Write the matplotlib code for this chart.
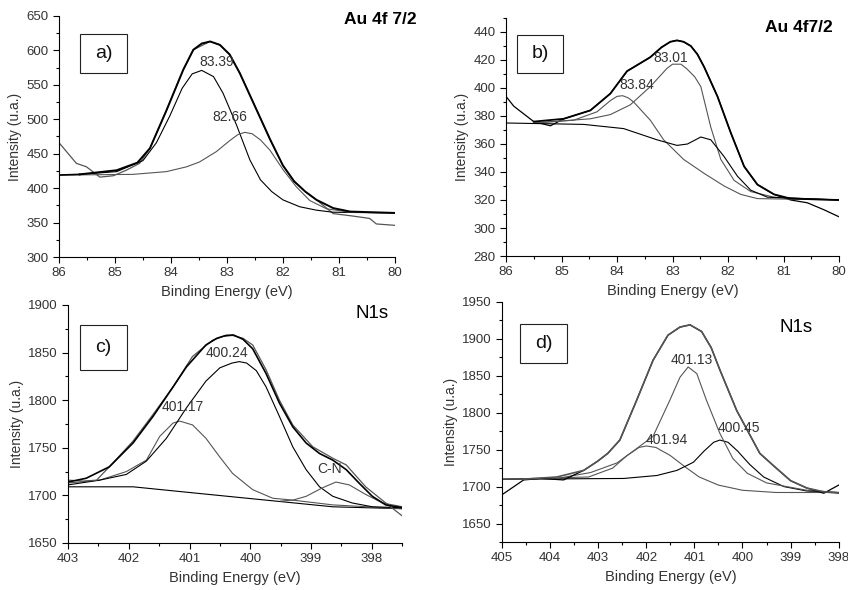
import matplotlib
matplotlib.use("Agg")
import matplotlib.pyplot as plt
from matplotlib.patches import Rectangle
from matplotlib.ticker import MultipleLocator

plt.rcParams["font.family"] = ["Liberation Sans", "DejaVu Sans"]
plt.rcParams["font.size"] = 9

DARK = "#000000"
GRAY = "#555555"

# ── a) Au 4f 7/2 ──
a_raw_x = [86.0, 85.69, 85.51, 85.27, 85.03, 84.80, 84.56, 84.375, 84.08, 83.78, 83.60, 83.30, 83.125,
           82.95, 82.77, 82.59, 82.41, 82.23, 82.0, 81.8, 81.6, 81.4, 81.10, 80.80, 80.62, 80.45, 80.33, 80.0]
a_raw_y = [466, 436, 431, 416, 418, 426, 436, 458, 513, 572, 601, 613, 608,
           594, 567, 535, 503, 471, 433, 410, 395, 383, 363, 360, 358, 356, 348, 346]
a_env_x = [85.63, 84.97, 84.60, 84.375, 84.08, 83.78, 83.60, 83.45, 83.30, 83.125, 82.95, 82.77, 82.59,
           82.41, 82.23, 82.0, 81.8, 81.6, 81.4, 81.1, 80.8, 80.0]
a_env_y = [420, 426, 437, 458, 513, 572, 601, 610, 613, 608, 594, 567, 535,
           503, 471, 433, 410, 395, 383, 371, 366, 364]
a_p1_x = [85.63, 84.97, 84.50, 84.26, 84.02, 83.80, 83.62, 83.45, 83.24, 83.07, 82.83, 82.59, 82.40,
          82.20, 82.0, 81.7, 81.4, 81.1, 80.0]
a_p1_y = [420, 424, 440, 466, 505, 545, 566, 571, 562, 538, 492, 441, 412,
          395, 383, 373, 368, 365, 364]
a_p2_x = [86.0, 84.68, 84.08, 83.72, 83.49, 83.19, 82.95, 82.80, 82.68, 82.55, 82.40, 82.23, 81.99,
          81.76, 81.52, 81.22, 80.80, 80.0]
a_p2_y = [419, 420, 424, 431, 438, 453, 469, 478, 481, 479, 470, 455, 426,
          402, 382, 370, 365, 364]

# ── b) Au 4f7/2 ──
b_raw_x = [86.0, 85.86, 85.50, 85.20, 84.96, 84.48, 84.12, 83.82, 83.40, 83.20, 83.04, 82.92, 82.80,
           82.67, 82.55, 82.43, 82.19, 81.95, 81.71, 81.47, 81.17, 80.87, 80.57, 80.27, 80.0]
b_raw_y = [394, 387, 376, 373, 378, 384, 396, 412, 422, 429, 433, 434, 433,
           430, 424, 415, 394, 368, 344, 331, 324, 320, 318, 313, 308]
b_env_x = [85.50, 84.96, 84.48, 84.12, 83.82, 83.40, 83.20, 83.04, 82.92, 82.80, 82.67, 82.55, 82.43,
           82.19, 81.95, 81.71, 81.47, 81.17, 80.87, 80.0]
b_env_y = [376, 378, 384, 396, 412, 422, 429, 433, 434, 433, 430, 424, 415,
           394, 368, 344, 331, 324, 321, 320]
b_p1_x = [85.50, 84.78, 84.36, 84.12, 84.0, 83.90, 83.80, 83.70, 83.40, 83.16, 82.80, 82.43, 82.07,
          81.77, 81.47, 80.0]
b_p1_y = [375, 377, 383, 391, 394, 394.5, 393, 390, 377, 363, 349, 339, 330,
          324, 321, 320]
b_p2_x = [85.50, 84.48, 84.12, 83.76, 83.40, 83.10, 83.0, 82.85, 82.75, 82.60, 82.49, 82.31, 82.13,
          81.89, 81.59, 81.17, 80.0]
b_p2_y = [375, 378, 381, 388, 401, 414, 417, 417, 414, 408, 401, 372, 349,
          334, 326, 322, 320]
b_p3_x = [86.0, 84.60, 83.88, 83.28, 82.92, 82.73, 82.49, 82.31, 82.07, 81.83, 81.59, 81.29, 80.0]
b_p3_y = [375, 374, 371, 363, 359, 360, 365, 363, 351, 337, 327, 322, 320]

# ── c) N1s ──
c_raw_x = [403.0, 402.75, 402.53, 402.26, 401.93, 401.60, 401.27, 400.95, 400.62, 400.45, 400.29,
           400.12, 399.96, 399.74, 399.52, 399.30, 398.97, 398.64, 398.42, 398.10, 397.77, 397.49]
c_raw_y = [1716, 1715, 1716, 1734, 1757, 1785, 1814, 1846, 1863, 1867, 1868,
           1865, 1858, 1832, 1800, 1774, 1751, 1739, 1732, 1709, 1692, 1678]
c_env_x = [403.0, 402.70, 402.32, 401.93, 401.60, 401.27, 401.05, 400.73, 400.55, 400.40, 400.28,
           400.12, 399.96, 399.74, 399.52, 399.30, 399.08, 398.86, 398.64, 398.42, 398.21, 397.99,
           397.77, 397.49]
c_env_y = [1714, 1718, 1730, 1755, 1783, 1814, 1835, 1858, 1865, 1868, 1868.5,
           1864, 1854, 1828, 1797, 1772, 1755, 1744, 1737, 1727, 1713, 1699,
           1690, 1687]
c_p1_x = [403.0, 402.48, 402.04, 401.71, 401.49, 401.27, 401.16, 400.95, 400.73, 400.51, 400.29,
          399.96, 399.63, 399.30, 398.64, 397.49]
c_p1_y = [1713, 1716, 1725, 1737, 1762, 1776, 1778, 1774, 1760, 1741, 1723,
          1706, 1697, 1695, 1690, 1686]
c_p2_x = [403.0, 402.48, 402.04, 401.71, 401.38, 401.05, 400.73, 400.50, 400.30, 400.18, 400.06,
          399.90, 399.74, 399.52, 399.30, 399.08, 398.86, 398.64, 398.32, 397.99, 397.49]
c_p2_y = [1711, 1716, 1722, 1736, 1760, 1792, 1820, 1834, 1839, 1840.5, 1839,
          1831, 1814, 1783, 1751, 1727, 1709, 1699, 1692, 1688, 1687]
c_cn_x = [399.50, 399.30, 399.08, 398.81, 398.59, 398.37, 398.10, 397.82, 397.49]
c_cn_y = [1694, 1695, 1699, 1708, 1714, 1711, 1701, 1692, 1688]
c_bg_x = [403.0, 401.93, 400.84, 399.74, 398.64, 397.49]
c_bg_y = [1709, 1709, 1702, 1695, 1688, 1686]

# ── d) N1s ──
d_raw_x = [405.0, 404.55, 404.20, 403.72, 403.30, 403.02, 402.80, 402.55, 402.20, 401.86, 401.55,
           401.30, 401.09, 400.85, 400.65, 400.47, 400.12, 399.64, 399.35, 399.0, 398.66, 398.31, 398.0]
d_raw_y = [1689, 1709, 1711, 1709, 1722, 1734, 1745, 1763, 1817, 1871, 1905,
           1916, 1919, 1910, 1888, 1858, 1803, 1745, 1728, 1708, 1698, 1691, 1702]
d_env_x = [404.55, 403.86, 403.30, 403.02, 402.80, 402.55, 402.20, 401.86, 401.55, 401.30, 401.09,
           400.85, 400.65, 400.47, 400.12, 399.64, 399.35, 399.0, 398.66, 398.31, 398.0]
d_env_y = [1710, 1713, 1722, 1734, 1745, 1763, 1817, 1871, 1905, 1916, 1919,
           1910, 1888, 1858, 1803, 1745, 1728, 1708, 1698, 1693, 1691]
d_p1_x = [405.0, 403.86, 403.16, 402.61, 402.19, 401.86, 401.51, 401.30, 401.13, 400.95, 400.75,
          400.47, 400.20, 399.90, 399.50, 399.0, 398.66, 398.0]
d_p1_y = [1710, 1711, 1719, 1732, 1752, 1768, 1817, 1848, 1862, 1853, 1817,
          1772, 1738, 1718, 1705, 1699, 1695, 1692]
d_p2_x = [405.0, 403.2, 402.7, 402.4, 402.15, 402.0, 401.8, 401.5, 401.2, 400.9, 400.5,
          400.0, 399.3, 398.0]
d_p2_y = [1710, 1713, 1725, 1742, 1753, 1755, 1753, 1742, 1727, 1713, 1702,
          1695, 1692, 1692]
d_p3_x = [405.0, 402.47, 401.78, 401.36, 401.02, 400.80, 400.60, 400.47, 400.30, 400.10, 399.85,
          399.56, 399.14, 398.66, 398.0]
d_p3_y = [1710, 1711, 1715, 1722, 1733, 1748, 1760, 1763, 1760, 1748, 1730,
          1713, 1700, 1694, 1692]


def style_axes(ax, xlim, ylim, xmaj, ymaj):
    ax.set_xlim(*xlim)
    ax.set_ylim(*ylim)
    ax.spines["top"].set_visible(False)
    ax.spines["right"].set_visible(False)
    ax.xaxis.set_major_locator(MultipleLocator(xmaj))
    ax.xaxis.set_minor_locator(MultipleLocator(xmaj / 2))
    ax.yaxis.set_major_locator(MultipleLocator(ymaj))
    ax.yaxis.set_minor_locator(MultipleLocator(ymaj / 2))
    ax.tick_params(which="major", direction="out", length=4, width=0.8,
                   labelsize=9.5, labelcolor="#333333")
    ax.tick_params(which="minor", direction="out", length=2, width=0.8)
    ax.set_xlabel("Binding Energy (eV)", fontsize=10.5, color="#333333", labelpad=4)
    ax.set_ylabel("Intensity (u.a.)", fontsize=10, color="#333333", labelpad=3)


def tag(ax, text, x0, y0, x1, y1):
    ax.add_patch(Rectangle((x0, y0), x1 - x0, y1 - y0, transform=ax.transAxes,
                           fill=False, edgecolor="#222222", linewidth=0.8, clip_on=False))
    ax.text((x0 + x1) / 2, (y0 + y1) / 2, text, transform=ax.transAxes,
            ha="center", va="center", fontsize=14, color="#111111")


fig = plt.figure(figsize=(8.48, 5.9), dpi=100)

ax_a = fig.add_axes([0.0696, 0.5644, 0.396, 0.4085])
ax_b = fig.add_axes([0.5967, 0.5661, 0.3927, 0.4034])
ax_c = fig.add_axes([0.0802, 0.0797, 0.394, 0.4034])
ax_d = fig.add_axes([0.592, 0.0814, 0.397, 0.4068])

LBL = dict(ha="center", va="center", fontsize=10, color="#333333")

# panel a
ax_a.plot(a_raw_x, a_raw_y, color=GRAY, lw=0.9)
ax_a.plot(a_p1_x, a_p1_y, color=DARK, lw=0.8)
ax_a.plot(a_p2_x, a_p2_y, color=GRAY, lw=0.8)
ax_a.plot(a_env_x, a_env_y, color=DARK, lw=1.4)
ax_a.plot([86.0, 85.63], [419, 420], color=DARK, lw=1.2)
style_axes(ax_a, (86, 80), (300, 650), 1, 50)
ax_a.text(83.18, 583, "83.39", **LBL)
ax_a.text(82.95, 503, "82.66", **LBL)
tag(ax_a, "a)", 0.0625, 0.763, 0.202, 0.925)

# panel b
ax_b.plot(b_raw_x, b_raw_y, color=DARK, lw=0.9)
ax_b.plot(b_p1_x, b_p1_y, color=GRAY, lw=0.8)
ax_b.plot(b_p2_x, b_p2_y, color=GRAY, lw=0.8)
ax_b.plot(b_p3_x, b_p3_y, color=DARK, lw=0.8)
ax_b.plot(b_env_x, b_env_y, color=DARK, lw=1.3)
style_axes(ax_b, (86, 80), (280, 450), 1, 20)
ax_b.text(83.03, 421.4, "83.01", **LBL)
ax_b.text(83.64, 402, "83.84", **LBL)
tag(ax_b, "b)", 0.033, 0.769, 0.171, 0.929)

# panel c
ax_c.plot(c_bg_x, c_bg_y, color=DARK, lw=0.8)
ax_c.plot(c_p1_x, c_p1_y, color=GRAY, lw=0.8)
ax_c.plot(c_p2_x, c_p2_y, color=DARK, lw=0.8)
ax_c.plot(c_cn_x, c_cn_y, color=GRAY, lw=0.8)
ax_c.plot(c_raw_x, c_raw_y, color=GRAY, lw=0.9)
ax_c.plot(c_env_x, c_env_y, color=DARK, lw=1.2)
style_axes(ax_c, (403, 397.5), (1650, 1900), 1, 50)
ax_c.text(400.38, 1850, "400.24", **LBL)
ax_c.text(401.11, 1793, "401.17", **LBL)
ax_c.text(398.69, 1728, "C-N", **LBL)
tag(ax_c, "c)", 0.036, 0.727, 0.177, 0.916)

# panel d
ax_d.plot(d_p2_x, d_p2_y, color=GRAY, lw=0.8)
ax_d.plot(d_p3_x, d_p3_y, color=DARK, lw=0.8)
ax_d.plot(d_p1_x, d_p1_y, color=GRAY, lw=0.8)
ax_d.plot(d_raw_x, d_raw_y, color=DARK, lw=0.9)
ax_d.plot(d_env_x, d_env_y, color=GRAY, lw=1.2)
style_axes(ax_d, (405, 398), (1625, 1950), 1, 50)
ax_d.set_yticks([1650, 1700, 1750, 1800, 1850, 1900, 1950])
ax_d.text(401.05, 1871, "401.13", **LBL)
ax_d.text(401.57, 1763, "401.94", **LBL)
ax_d.text(400.08, 1779, "400.45", **LBL)
tag(ax_d, "d)", 0.053, 0.746, 0.193, 0.908)

# core-level titles
fig.text(417 / 848, 1 - 20 / 590, "Au 4f 7/2", ha="right", va="center",
         fontsize=12.5, fontweight="bold")
fig.text(833 / 848, 1 - 27 / 590, "Au 4f7/2", ha="right", va="center",
         fontsize=12.5, fontweight="bold")
fig.text(389 / 848, 1 - 313 / 590, "N1s", ha="right", va="center", fontsize=13.5)
fig.text(813 / 848, 1 - 327 / 590, "N1s", ha="right", va="center", fontsize=13.5)

fig.savefig("out.png", dpi=100)
